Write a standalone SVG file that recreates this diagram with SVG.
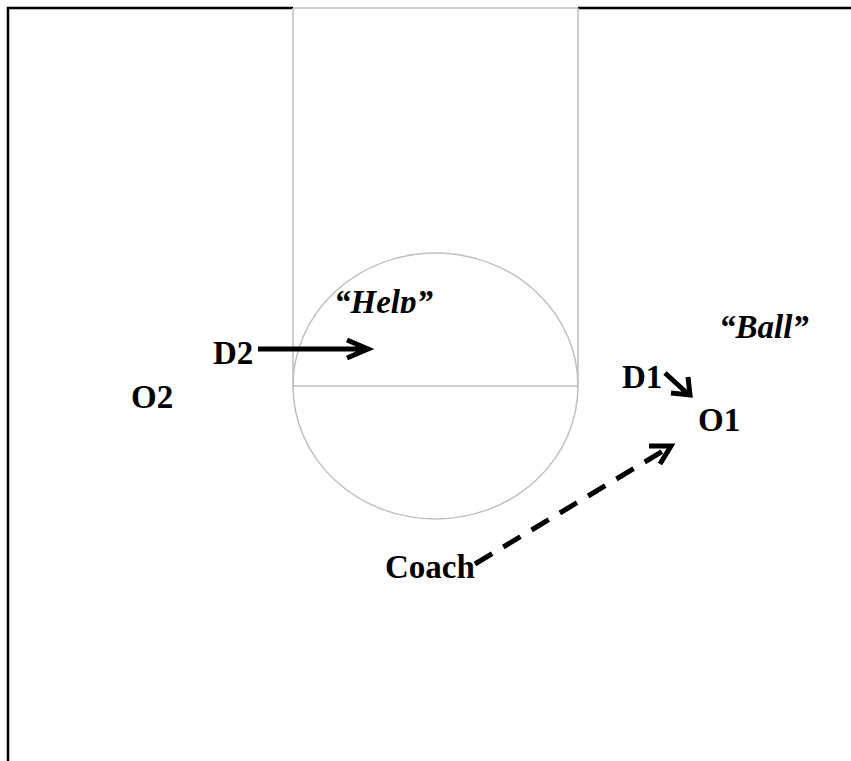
<svg xmlns="http://www.w3.org/2000/svg" width="851" height="761" viewBox="0 0 851 761">
<style>
.court{fill:none;stroke:#000;stroke-width:2.5}
.lane{fill:none;stroke:#bfbfbf;stroke-width:1.5}
.lbl{font-family:"Liberation Serif","Times New Roman",serif;font-weight:bold;font-size:33px;fill:#000}
.it{font-style:italic}
.arr{fill:none;stroke:#000;stroke-width:5;stroke-linecap:butt;stroke-linejoin:miter}
</style>
<defs>
<clipPath id="helpclip"><rect x="300" y="270" width="200" height="43"/></clipPath>
</defs>
<rect width="851" height="761" fill="#fff"/>
<g id="court">
<path class="court" d="M8,761 V8 H293 M578,8 H851"/>
<path class="lane" d="M293,8 H578 M293,8 V386 M578,8 V386 M293,386 H578"/>
<ellipse class="lane" cx="435.5" cy="386" rx="142.5" ry="133"/>
</g>
<g id="D2"><text class="lbl" x="213" y="364">D2</text></g>
<g id="O2"><text class="lbl" x="131" y="408">O2</text></g>
<g id="help"><text class="lbl it" x="334" y="313" clip-path="url(#helpclip)">“Help”</text></g>
<g id="ball"><text class="lbl it" x="719" y="338">“Ball”</text></g>
<g id="D1"><text class="lbl" x="622" y="388">D1</text></g>
<g id="O1"><text class="lbl" x="698" y="431">O1</text></g>
<g id="coach"><text class="lbl" x="385" y="578">Coach</text></g>
<g id="connectors">
<path class="arr" d="M258,349 H366 M347,340 L368,349 L347,358"/>
<path class="arr" d="M665,373 L688,394 M671,393 L690,395 L688,377"/>
<path class="arr" d="M475,564 L668,448" stroke-dasharray="20,13"/>
<path class="arr" d="M649,446 L671,446 L660,464"/>
</g>
</svg>
